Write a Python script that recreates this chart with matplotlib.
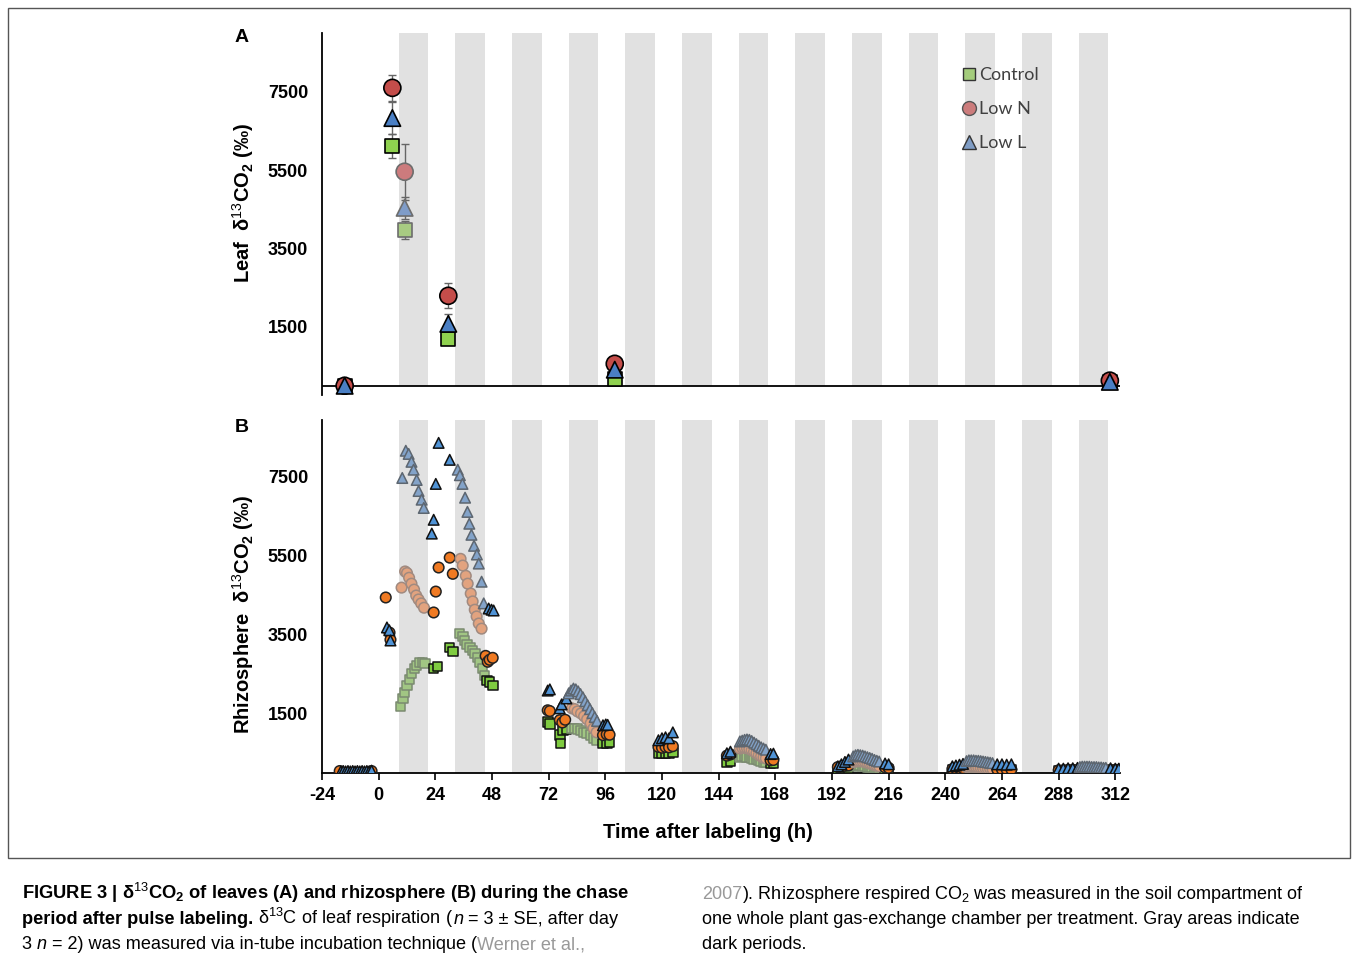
import numpy as np
import matplotlib.pyplot as plt
from matplotlib.lines import Line2D
from matplotlib.patches import Rectangle

plt.rcParams['font.family'] = ['Liberation Sans', 'DejaVu Sans']
plt.rcParams['mathtext.fontset'] = 'custom'
plt.rcParams['mathtext.rm'] = 'Liberation Sans'
plt.rcParams['mathtext.it'] = 'Liberation Sans:italic'
plt.rcParams['mathtext.bf'] = 'Liberation Sans:bold'

# dark periods (h after labeling)
dark_start = [8.5 + 24 * k for k in range(13)]
dark_len = 12.5

# ---- panel A: leaf respiration (mean, SE)
leaf_t = [-14.4, 5.8, 11.0, 29.5, 100.0, 309.7]
leaf_ctrl = [0, 6120, 3980, 1200, 180, 100]
leaf_ctrl_se = [0, 310, 230, 0, 0, 0]
leaf_lown = [0, 7600, 5460, 2295, 560, 130]
leaf_lown_se = [0, 330, 720, 320, 0, 0]
leaf_lowl = [0, 6830, 4540, 1580, 410, 100]
leaf_lowl_se = [0, 410, 280, 250, 0, 0]

# ---- panel B: rhizosphere respired CO2
pre_t = [-16, -15, -14, -13, -12, -11, -10, -9, -8, -7, -6, -5, -4, -3]

rh_t_L = pre_t + [
    3.5, 4.5, 5.0,
    10.0, 11.5, 12.7, 13.9, 14.8, 16.1, 16.9, 18.2, 19.1,
    22.5, 23.3, 24.2, 25.4, 30.1,
    33.5, 34.4, 35.5, 36.6, 37.6, 38.4, 39.3, 40.4, 41.6, 42.4, 43.6, 44.5,
    46.6, 47.8, 48.7,
    71.6, 72.5, 76.7, 77.5,
    79.5, 80.5, 81.5, 82.5, 83.5, 84.5, 85.5, 86.5, 87.5, 88.5, 89.5, 90.5, 91.5, 92.5,
    95.0, 96.2, 97.0,
    118.5, 120.0, 121.5, 123.0, 124.6,
    147.5, 149.0,
    153, 154, 155, 156, 157, 158, 159, 160, 161, 162, 163, 164,
    166.0, 167.2,
    194.5, 196, 197.5, 199,
    201, 202, 203, 204, 205, 206, 207, 208, 209, 210, 211, 212,
    214.5, 216,
    243, 244.5, 246, 247.5,
    249, 250, 251, 252, 253, 254, 255, 256, 257, 258, 259, 260,
    262, 264, 266, 268,
    288, 290, 292, 294, 296,
    297, 298, 299, 300, 301, 302, 303, 304, 305, 306, 307, 308,
    310, 312, 313.5]
rh_L = [20, 30, 20, 30, 20, 30, 20, 30, 20, 30, 20, 30, 20, 40] + [
    3670, 3600, 3340,
    7460, 8150, 8070, 7870, 7670, 7410, 7130, 6910, 6700,
    6050, 6400, 7310, 8350, 7920,
    7670, 7530, 7310, 6960, 6600, 6300, 6020, 5740, 5520, 5290, 4830, 4280,
    4150, 4120, 4100,
    2070, 2100, 1620, 1720,
    1870, 2000, 2070, 2120, 2100, 2050, 1980, 1900, 1800, 1700, 1600, 1500, 1400, 1300,
    1190, 1210, 1200,
    810, 860, 885, 860, 1010,
    480, 520,
    780, 800, 820, 830, 820, 790, 750, 710, 670, 630, 600, 570,
    460, 470,
    150, 200, 260, 320,
    400, 430, 440, 430, 420, 400, 380, 360, 340, 310, 290, 270,
    220, 200,
    150, 170, 190, 210,
    280, 300, 300, 300, 290, 290, 280, 270, 260, 250, 240, 230,
    200, 200, 190, 200,
    90, 90, 100, 100, 110,
    130, 140, 140, 140, 140, 130, 130, 130, 120, 120, 110, 110,
    100, 90, 90]

rh_t_N = [-16.5, -3] + [
    3.0, 4.6, 5.0,
    9.7, 11.2, 12.0, 12.9, 13.9, 15.0, 15.9, 16.9, 18.0, 19.2,
    23.3, 24.2, 25.4, 30.1, 31.4,
    34.7, 35.6, 36.9, 37.7, 39.0, 39.8, 40.7, 41.5, 42.4, 43.6,
    45.3, 46.2, 47.0, 48.3,
    71.6, 72.5, 76.7, 77.8, 79.0,
    81.8, 83.0, 84.2, 85.7, 87.0, 88.3, 89.8, 91.0, 92.3,
    95.0, 96.6, 97.8,
    118.5, 120.0, 121.5, 123.0, 124.6,
    147.5, 149.0,
    153, 154, 155, 156, 157, 158, 159, 160, 161, 162, 163, 164,
    166.0, 167.2,
    194.5, 196, 197.5, 199,
    201, 202, 203, 204, 205, 206, 207, 208, 209, 210, 211, 212,
    214.5, 216,
    243, 244.5, 246, 247.5,
    249, 250, 251, 252, 253, 254, 255, 256, 257, 258, 259, 260,
    262, 264, 266, 268,
    288, 290, 292, 294, 296,
    297, 298, 299, 300, 301, 302, 303, 304, 305, 306, 307, 308,
    310, 312, 313.5]
rh_N = [30, 30] + [
    4430, 3540, 3360,
    4680, 5090, 5050, 4930, 4780, 4630, 4480, 4380, 4280, 4170,
    4050, 4580, 5190, 5440, 5030,
    5410, 5240, 4980, 4780, 4530, 4330, 4120, 3950, 3770, 3640,
    2950, 2800, 2850, 2900,
    1570, 1550, 1320, 1260, 1330,
    1620, 1600, 1540, 1490, 1420, 1340, 1240, 1110, 1010,
    940, 960, 950,
    640, 620, 640, 630, 660,
    420, 450,
    600, 620, 620, 610, 590, 560, 520, 480, 440, 400, 370, 350,
    300, 310,
    130, 150, 160, 170,
    250, 270, 280, 280, 270, 260, 240, 220, 200, 180, 160, 150,
    120, 110,
    80, 90, 100, 100,
    130, 140, 140, 140, 130, 120, 110, 100, 100, 90, 90, 80,
    70, 70, 70, 70,
    50, 50, 60, 60, 60,
    80, 90, 90, 90, 90, 80, 80, 80, 70, 70, 70, 60,
    60, 60, 60]

rh_t_C = [
    9.3, 10.2, 11.0, 11.9, 13.1, 13.9, 15.2, 16.1, 17.3, 18.5, 19.5,
    23.3, 25.0, 30.0, 31.4,
    34.3, 35.6, 36.4, 37.3, 38.6, 39.8, 40.7, 42.0, 43.0, 44.0, 44.9,
    46.0, 47.0, 48.3,
    71.6, 72.5, 76.7, 77.0, 78.0, 79.5,
    81.8, 83.0, 84.2, 85.7, 87.0, 88.3, 89.8, 91.0, 92.3,
    95.0, 96.6, 97.8,
    118.5, 120.0, 121.5, 123.0, 124.6,
    147.5, 149.0,
    153, 154, 155, 156, 157, 158, 159, 160, 161, 162, 163, 164,
    166.0, 167.2,
    194.5, 196, 197.5, 199,
    201, 202, 203, 204, 205, 206, 207, 208, 209, 210, 211, 212,
    214.5, 216,
    243, 244.5, 246, 247.5,
    249, 250, 251, 252, 253, 254, 255, 256, 257, 258, 259, 260,
    262, 264, 266, 268,
    288, 290, 292, 294, 296,
    297, 298, 299, 300, 301, 302, 303, 304, 305, 306, 307, 308,
    310, 312, 313.5]
rh_C = [
    1670, 1870, 2020, 2200, 2350, 2500, 2630, 2710, 2780, 2780, 2760,
    2630, 2680, 3160, 3060,
    3520, 3440, 3340, 3240, 3160, 3090, 3010, 2910, 2780, 2630, 2450,
    2330, 2280, 2200,
    1270, 1230, 940, 730, 1060, 1100,
    1110, 1110, 1100, 1060, 1010, 990, 940, 860, 810,
    730, 730, 760,
    480, 470, 480, 470, 500,
    260, 280,
    380, 400, 400, 390, 380, 360, 340, 320, 300, 280, 260, 250,
    230, 240,
    60, 80, 90, 100,
    160, 170, 170, 170, 160, 150, 140, 130, 120, 110, 100, 90,
    80, 70,
    50, 60, 60, 70,
    90, 100, 100, 100, 90, 90, 80, 80, 70, 70, 60, 60,
    50, 50, 50, 50,
    30, 30, 30, 40, 40,
    50, 60, 60, 60, 60, 60, 50, 50, 50, 50, 40, 40,
    40, 40, 40]

xticks = list(range(-24, 313, 24))
yticks = [1500, 3500, 5500, 7500]

W, H = 1358, 959
fig = plt.figure(figsize=(W / 100, H / 100), dpi=100)


def fx(px):
    return px / W


def fy(py):
    return 1 - py / H


def in_dark(t):
    return np.array([any(s <= x < s + dark_len for s in dark_start) for x in t])


def add_bands(ax, ylo):
    lo, hi = ax.get_ylim()
    frac = (ylo - lo) / (hi - lo)
    for s in dark_start:
        ax.axvspan(s, s + dark_len, ymin=frac, ymax=1, color='#e1e1e1', lw=0, zorder=0)


# ================= panel A
axA = fig.add_axes([fx(322), fy(395), fx(1120) - fx(322), fy(33) - fy(395)])
axA.set_xlim(-24, 314)
axA.set_ylim(-236, 9000)
add_bands(axA, 0)
axA.axhline(0, color='black', lw=1.3, zorder=1)

leaf_series = [
    (leaf_ctrl, leaf_ctrl_se, 's', 100, '#8fd14f', '#a8cb82'),
    (leaf_lown, leaf_lown_se, 'o', 150, '#c44d4a', '#cc7b7d'),
    (leaf_lowl, leaf_lowl_se, '^', 140, '#4a7fc4', '#7f9cc8'),
]
darkA = in_dark(leaf_t)
for vals, se, mk, size, col, fcol in leaf_series:
    vals = np.array(vals)
    se = np.array(se)
    m = se > 0
    axA.errorbar(np.array(leaf_t)[m], vals[m], yerr=se[m], fmt='none',
                 ecolor='#666666', elinewidth=1.0, capsize=3, capthick=1.0, zorder=2)
    fcs = [fcol if d else col for d in darkA]
    ecs = ['#6d6d6d' if d else 'black' for d in darkA]
    axA.scatter(leaf_t, vals, marker=mk, s=size, c=fcs, edgecolors=ecs, linewidths=1.2, zorder=3)

axA.set_yticks(yticks)
axA.set_yticklabels([str(v) for v in yticks], fontweight='bold', fontsize=13)
axA.tick_params(axis='y', length=0, pad=10)
axA.set_xticks([])
for sp in ['top', 'right', 'bottom']:
    axA.spines[sp].set_visible(False)
axA.spines['left'].set_linewidth(1.3)

handles = [
    Line2D([], [], ls='none', marker='s', ms=9, mfc='#a4cc7c', mec='#333333', mew=1),
    Line2D([], [], ls='none', marker='o', ms=10, mfc='#cc7c7c', mec='#555555', mew=1),
    Line2D([], [], ls='none', marker='^', ms=10, mfc='#7f9cc4', mec='#333333', mew=1),
]
axA.legend(handles, ['Control', 'Low N', 'Low L'], loc='upper left',
           bbox_to_anchor=(fx(953), fy(58)), bbox_transform=fig.transFigure,
           frameon=False, handletextpad=0.15, handlelength=0.8, labelspacing=1.0,
           prop={'family': 'Lato', 'size': 13}, labelcolor='#404040', borderpad=0)

# ================= panel B
axB = fig.add_axes([fx(322), fy(773), fx(1120) - fx(322), fy(420) - fy(773)])
axB.set_xlim(-24, 314)
axB.set_ylim(-20, 8930)
add_bands(axB, -20)

rh_series = [
    (rh_t_C, rh_C, 's', 48, '#7fcc40', '#a1c683', '#111111', '#7a8a70'),
    (rh_t_N, rh_N, 'o', 58, '#f07a22', '#e2a37f', '#222222', '#a08a80'),
    (rh_t_L, rh_L, '^', 58, '#4f93d6', '#83a3c9', '#111111', '#5d6670'),
]
for z, (tt, vv, mk, size, col, fcol, ec, fec) in enumerate(rh_series):
    d = in_dark(tt)
    fcs = [fcol if x else col for x in d]
    ecs = [fec if x else ec for x in d]
    axB.scatter(tt, vv, marker=mk, s=size, c=fcs, edgecolors=ecs, linewidths=1.1, zorder=3 + z)

axB.set_xticks(xticks)
axB.set_xticklabels([str(v) for v in xticks], fontweight='bold', fontsize=13)
axB.tick_params(axis='x', length=5, width=1.2, direction='out', pad=5)
axB.set_yticks(yticks)
axB.set_yticklabels([str(v) for v in yticks], fontweight='bold', fontsize=13)
axB.tick_params(axis='y', length=0, pad=10)
for sp in ['top', 'right']:
    axB.spines[sp].set_visible(False)
axB.spines['left'].set_linewidth(1.3)
axB.spines['bottom'].set_linewidth(1.3)

# labels
fig.text(fx(242), fy(38), 'A', fontweight='bold', fontsize=14, ha='center', va='center')
fig.text(fx(242), fy(428), 'B', fontweight='bold', fontsize=14, ha='center', va='center')
fig.text(fx(243), fy(203), r'Leaf  δ$^{13}$CO$_\mathbf{2}$ (‰)', rotation=90,
         fontweight='bold', fontsize=14.5, ha='center', va='center')
fig.text(fx(243), fy(614), r'Rhizosphere  δ$^{13}$CO$_\mathbf{2}$ (‰)', rotation=90,
         fontweight='bold', fontsize=14.5, ha='center', va='center')
fig.text(fx(708), fy(832), 'Time after labeling (h)', fontweight='bold', fontsize=14.6,
         ha='center', va='center')

# frame
fig.patches.append(Rectangle((fx(8), fy(858)), fx(1350) - fx(8), fy(8) - fy(858),
                             transform=fig.transFigure, fill=False, ec='#555555', lw=1))

# caption
renderer = fig.canvas.get_renderer()


def runs(x, y, parts, size=13.1):
    for s, props in parts:
        t = fig.text(x, y, s, fontsize=size, va='baseline', ha='left', **props)
        bb = t.get_window_extent(renderer)
        x += bb.width / W


B = {'fontweight': 'bold'}
R = {}
I = {'fontstyle': 'italic'}
G = {'color': '#999999'}
runs(fx(22), fy(899), [(r'FIGURE 3 | δ$^{13}$CO$_\mathbf{2}$ of leaves (A) and rhizosphere (B) during the chase', B)], 13.2)
runs(fx(22), fy(924), [('period after pulse labeling.', B), (r' δ$^{13}$C of leaf respiration (', R),
                       ('n', I), (' = 3 ± SE, after day', R)])
runs(fx(22), fy(949), [('3 ', R), ('n', I), (' = 2) was measured via in-tube incubation technique (', R),
                       ('Werner et al.,', G)])
runs(fx(702), fy(899), [('2007', G), ('). Rhizosphere respired CO$_2$ was measured in the soil compartment of', R)], 13.0)
runs(fx(702), fy(924), [('one whole plant gas-exchange chamber per treatment. Gray areas indicate', R)], 13.0)
runs(fx(702), fy(949), [('dark periods.', R)], 13.0)

fig.savefig('out.png', dpi=100)
